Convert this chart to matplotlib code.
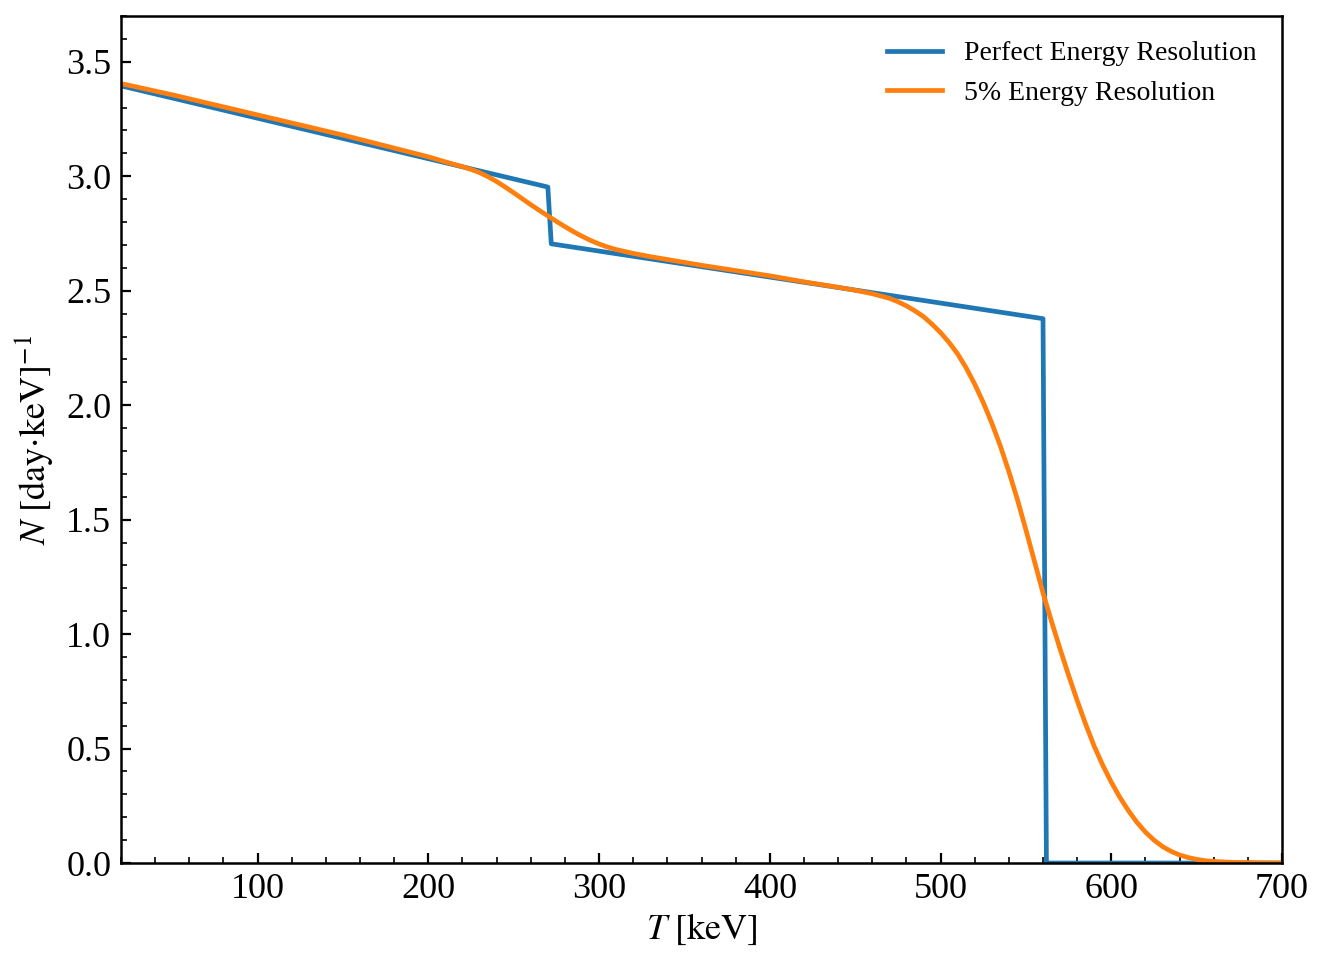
import matplotlib
matplotlib.use('Agg')
import matplotlib.pyplot as plt
from matplotlib.ticker import MultipleLocator

# perfect resolution spectrum
T_perfect = [20, 270, 272, 560, 562, 700]
N_perfect = [3.395, 2.953, 2.705, 2.378, 0.0, 0.0]

# 5% resolution (smeared) spectrum
T_smeared = [20, 50, 100, 150, 180, 200, 210, 220, 225, 230, 235, 240, 245, 250,
             255, 260, 265, 270, 275, 280, 285, 290, 295, 300, 305, 310, 320, 330,
             345, 360, 380, 400, 420, 440, 450, 460, 470, 475, 480, 485, 490, 495,
             500, 505, 510, 515, 520, 525, 530, 535, 540, 545, 550, 555, 560, 565,
             570, 575, 580, 585, 590, 595, 600, 605, 610, 615, 620, 625, 630, 635,
             640, 645, 650, 655, 660, 670, 685, 700]
N_smeared = [3.405, 3.356, 3.268, 3.180, 3.123, 3.085, 3.063, 3.042, 3.030, 3.016,
             2.998, 2.977, 2.953, 2.928, 2.902, 2.876, 2.851, 2.827, 2.803, 2.780,
             2.758, 2.738, 2.720, 2.704, 2.691, 2.680, 2.663, 2.649, 2.630, 2.611,
             2.588, 2.565, 2.539, 2.515, 2.502, 2.487, 2.467, 2.452, 2.434, 2.412,
             2.387, 2.354, 2.317, 2.274, 2.224, 2.163, 2.092, 2.012, 1.922, 1.822,
             1.710, 1.588, 1.455, 1.318, 1.180, 1.055, 0.935, 0.820, 0.710, 0.606,
             0.510, 0.427, 0.353, 0.287, 0.229, 0.178, 0.135, 0.100, 0.072, 0.051,
             0.035, 0.024, 0.016, 0.010, 0.007, 0.003, 0.001, 0.0]

labels = ['Perfect Energy Resolution', '5% Energy Resolution']

plt.rcParams['font.family'] = ['Liberation Serif', 'DejaVu Serif']
plt.rcParams['mathtext.fontset'] = 'stix'

fig = plt.figure(figsize=(6.64, 4.83), dpi=200)
ax = fig.add_axes([0.0911, 0.1066, 0.8743, 0.8768])

ax.plot(T_perfect, N_perfect, color='#1f77b4', lw=1.7, label=labels[0])
ax.plot(T_smeared, N_smeared, color='#ff7f0e', lw=1.7, label=labels[1])

ax.set_xlim(20, 700)
ax.set_ylim(0, 3.7)
ax.xaxis.set_major_locator(MultipleLocator(100))
ax.xaxis.set_minor_locator(MultipleLocator(20))
ax.yaxis.set_major_locator(MultipleLocator(0.5))
ax.yaxis.set_minor_locator(MultipleLocator(0.1))
ax.tick_params(which='both', direction='in', labelsize=13)
ax.tick_params(which='major', length=3.5, width=0.8)
ax.tick_params(which='minor', length=2, width=0.6)
for s in ax.spines.values():
    s.set_linewidth(0.9)

ax.set_xlabel(r'$T\ [\mathrm{keV}]$', fontsize=13, labelpad=2)
ax.set_ylabel(r'$N\ [\mathrm{day{\cdot}keV}]^{-1}$', fontsize=13, labelpad=4)

ax.legend(loc='upper right', frameon=False, fontsize=10)

fig.savefig('out.png', dpi=200)
